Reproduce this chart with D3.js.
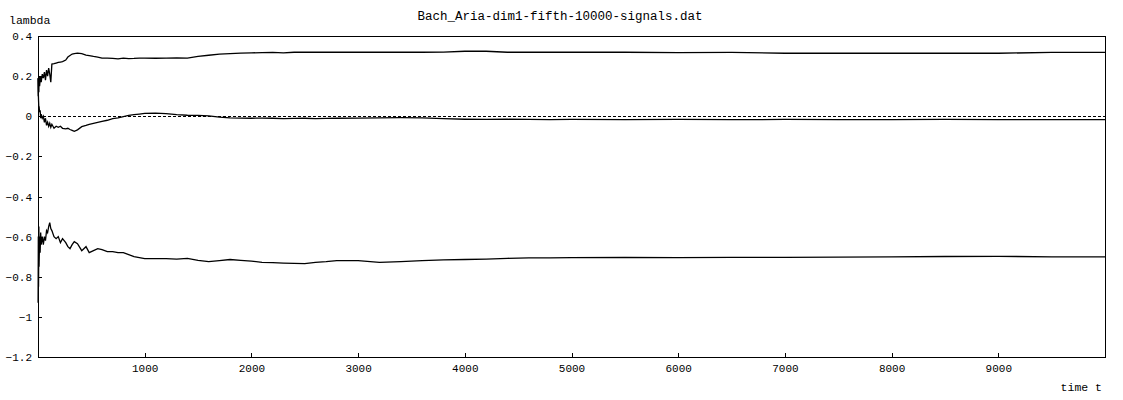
<!DOCTYPE html>
<html>
<head>
<meta charset="utf-8">
<script src="https://cdn.jsdelivr.net/npm/d3@7/dist/d3.min.js"></script>
<style>
  html, body { margin: 0; padding: 0; background: #fff; }
  svg { display: block; }
  .mono { font-family: "Liberation Mono", "DejaVu Sans Mono", monospace; fill: #000; }
</style>
</head>
<body>
<svg id="chart" width="1123" height="400"></svg>
<script>
// ---- data ----
const chartTitle = "Bach_Aria-dim1-fifth-10000-signals.dat";
const yLabel = "lambda";
const xLabel = "time t";

const time = [1,3,5,8,10, 15,20,25,30,40, 50,60,70,80,90, 100,110,120,130,150,
  170,190,210,230,260, 280,300,320,340,370, 410,450,480,520,560, 600,650,700,750,800,
  850,900,950,1000,1100, 1200,1300,1400,1500,1600, 1700,1800,1900,2000,2100,
  2200,2300,2400,2500,2600, 2700,2800,3000,3200,3400, 3600,3800,4000,4200,4400,
  4600,4800,5000,5500,6000, 6500,7000,7500,8000,8500, 9000,9500,10000];

const lambdaUpper = [0.19,0.10,0.17,0.12,0.20, 0.15,0.18,0.20,0.17,0.21, 0.19,0.22,0.18,0.23,0.20,
  0.24,0.21,0.17,0.26,0.262, 0.265,0.268,0.27,0.272,0.28, 0.295,0.303,0.31,0.312,0.315,
  0.312,0.305,0.302,0.298,0.295, 0.29,0.29,0.288,0.286,0.29, 0.287,0.288,0.29,0.29,0.289,
  0.29,0.291,0.29,0.298,0.304, 0.31,0.312,0.315,0.316,0.317, 0.318,0.316,0.319,0.319,0.319,
  0.319,0.319,0.319,0.319,0.319, 0.319,0.32,0.324,0.324,0.319, 0.319,0.319,0.319,0.319,0.317,
  0.318,0.314,0.314,0.314,0.314, 0.314,0.318,0.318];

const lambdaMiddle = [0.19,0.12,0.08,0.04,0.05, 0.02,0.03,-0.01,0.01,-0.01, 0.0,-0.03,-0.01,-0.045,-0.03,
  -0.05,-0.035,-0.055,-0.04,-0.06, -0.05,-0.055,-0.05,-0.06,-0.063, -0.06,-0.066,-0.07,-0.075,-0.068,
  -0.052,-0.046,-0.04,-0.035,-0.03, -0.025,-0.02,-0.012,-0.008,-0.002, 0.004,0.008,0.011,0.014,0.016,
  0.013,0.008,0.005,0.004,0.002, -0.004,-0.008,-0.009,-0.01,-0.009, -0.01,-0.012,-0.011,-0.01,-0.012,
  -0.011,-0.01,-0.009,-0.008,-0.007, -0.008,-0.012,-0.015,-0.016,-0.015, -0.016,-0.017,-0.016,-0.017,-0.016,
  -0.017,-0.016,-0.017,-0.017,-0.016, -0.017,-0.017,-0.017];

const lambdaLower = [-0.93,-0.60,-0.85,-0.55,-0.75, -0.60,-0.68,-0.58,-0.64,-0.60, -0.64,-0.60,-0.62,-0.57,-0.58,
  -0.55,-0.53,-0.56,-0.57,-0.60, -0.61,-0.60,-0.63,-0.61,-0.63, -0.65,-0.66,-0.64,-0.625,-0.635,
  -0.67,-0.65,-0.68,-0.67,-0.66, -0.665,-0.675,-0.675,-0.68,-0.68, -0.69,-0.70,-0.705,-0.71,-0.71,
  -0.71,-0.712,-0.708,-0.718,-0.725, -0.72,-0.714,-0.718,-0.722,-0.728, -0.73,-0.732,-0.733,-0.735,-0.728,
  -0.725,-0.72,-0.72,-0.728,-0.725, -0.72,-0.716,-0.714,-0.712,-0.708, -0.706,-0.706,-0.705,-0.704,-0.705,
  -0.703,-0.703,-0.702,-0.701,-0.699, -0.698,-0.701,-0.701];

const xTicks = [1000,2000,3000,4000,5000,6000,7000,8000,9000];
const yTicks = [0.4,0.2,0,-0.2,-0.4,-0.6,-0.8,-1,-1.2];
const xDomain = [0, 10000];
const yDomain = [-1.2, 0.4];

// ---- drawing ----
const W = 1123, H = 400;
const margin = {left: 38, right: 18, top: 36, bottom: 43};
const svg = d3.select("#chart");

const x = d3.scaleLinear().domain(xDomain).range([margin.left, W - margin.right]);
const y = d3.scaleLinear().domain(yDomain).range([H - margin.bottom, margin.top]);

// zero dashed line
svg.append("line")
  .attr("x1", x(xDomain[0])).attr("x2", x(xDomain[1]))
  .attr("y1", Math.round(y(0)) + 0.5).attr("y2", Math.round(y(0)) + 0.5)
  .attr("stroke", "#000").attr("stroke-width", 1)
  .attr("stroke-dasharray", "3,2")
  .attr("shape-rendering", "crispEdges");

const series = [lambdaUpper, lambdaMiddle, lambdaLower];
const line = d3.line()
  .x((d, i) => x(time[i]))
  .y(d => y(d));

svg.append("g").selectAll("path").data(series).join("path")
  .attr("d", d => line(d))
  .attr("fill", "none")
  .attr("stroke", "#000")
  .attr("stroke-width", 1.3)
  .attr("stroke-linejoin", "miter");

// axes
const fmt = v => (v < 0 ? "\u2212" : "") + d3.format("")(Math.abs(v));
const xAxis = d3.axisBottom(x).tickValues(xTicks).tickSize(-4).tickPadding(7).tickFormat(d3.format("d"));
const yAxis = d3.axisLeft(y).tickValues(yTicks).tickSize(-4).tickPadding(6).tickFormat(fmt);

const gx = svg.append("g").attr("transform", `translate(0,${H - margin.bottom})`).call(xAxis);
const gy = svg.append("g").attr("transform", `translate(${margin.left},0)`).call(yAxis);
[gx, gy].forEach(g => {
  g.select(".domain").remove();
  g.selectAll("line").attr("stroke", "#000").attr("shape-rendering", "crispEdges");
  g.selectAll("text").attr("class", "mono").attr("font-size", 11).attr("fill", "#000");
});

// frame
svg.append("rect")
  .attr("x", x(xDomain[0]) + 0.5).attr("y", y(yDomain[1]) + 0.5)
  .attr("width", x(xDomain[1]) - x(xDomain[0]))
  .attr("height", y(yDomain[0]) - y(yDomain[1]))
  .attr("fill", "none").attr("stroke", "#000").attr("stroke-width", 1)
  .attr("shape-rendering", "crispEdges");

// texts
svg.append("text").attr("class", "mono")
  .attr("x", 560).attr("y", 20).attr("text-anchor", "middle")
  .attr("font-size", 12.5).text(chartTitle);
svg.append("text").attr("class", "mono")
  .attr("x", 9).attr("y", 24).attr("font-size", 11.5).text(yLabel);
svg.append("text").attr("class", "mono")
  .attr("x", 1102).attr("y", 391).attr("text-anchor", "end")
  .attr("font-size", 11.5).text(xLabel);
</script>
</body>
</html>
